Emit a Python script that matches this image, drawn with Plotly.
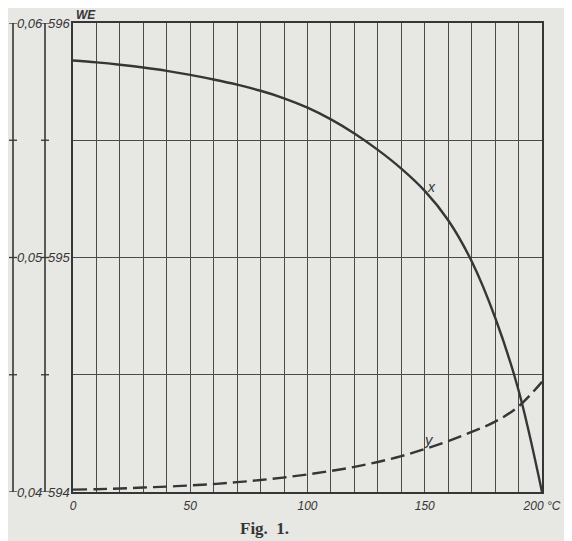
import plotly.graph_objects as go

# Temperature in °C
temps = [0, 10, 20, 30, 40, 50, 60, 70, 80, 90, 100, 110, 120, 130, 140, 150,
         160, 170, 180, 190, 200]
# Curve x (solid), WE
x_we = [595.84, 595.832, 595.822, 595.810, 595.796, 595.779, 595.759, 595.737, 595.711,
        595.679, 595.639, 595.589, 595.529, 595.459, 595.379, 595.284, 595.159, 594.984,
        594.744, 594.434, 594.0]
# Curve y (dashed), WE
y_we = [594.01, 594.012, 594.015, 594.019, 594.023, 594.028, 594.034, 594.042, 594.051,
        594.062, 594.075, 594.09, 594.107, 594.128, 594.153, 594.183, 594.217, 594.256,
        594.30, 594.365, 594.47]

x_tickvals = [0, 50, 100, 150, 200]
x_ticktext = ["0", "50", "100", "150", "200 °C"]
left_vals = [594, 595, 596]
left_outer = ["0,04", "0,05", "0,06"]
left_inner = ["594", "595", "596"]
minor_left = [594.5, 595.5]

ink = "#363636"
paper = "#e7e7e3"
font_it = dict(family="Liberation Sans", size=13, color=ink, style="italic")

fig = go.Figure()
fig.add_trace(go.Scatter(x=temps, y=x_we, mode="lines",
                         line=dict(color=ink, width=2.4, shape="spline"),
                         showlegend=False, hoverinfo="skip"))
fig.add_trace(go.Scatter(x=temps, y=y_we, mode="lines",
                         line=dict(color=ink, width=2.4, shape="spline", dash="14px,6px"),
                         showlegend=False, hoverinfo="skip"))

# page has an 8px body margin, so figure coords = window coords - 8
W, H = 564, 533
L, T = 65, 15
pw = 469
R = W - L - pw
B = H - T - 469

def px_to_paper(px_window):
    return (px_window - 8 - L) / pw

shapes = []
annotations = []
for xp in (13, 45):
    shapes.append(dict(type="line", xref="paper", yref="y",
                       x0=px_to_paper(xp), x1=px_to_paper(xp), y0=594, y1=596,
                       line=dict(color=ink, width=1.6)))
    for v in left_vals + minor_left:
        shapes.append(dict(type="line", xref="paper", yref="y",
                           x0=px_to_paper(xp - 4), x1=px_to_paper(xp + 4), y0=v, y1=v,
                           line=dict(color=ink, width=1.3)))
for v, o, i in zip(left_vals, left_outer, left_inner):
    annotations.append(dict(x=px_to_paper(16), y=v, xref="paper", yref="y",
                            text=o, showarrow=False, xanchor="left", yanchor="middle",
                            font=font_it, borderpad=0))
    annotations.append(dict(x=px_to_paper(47), y=v, xref="paper", yref="y",
                            text=i, showarrow=False, xanchor="left", yanchor="middle",
                            font=font_it, borderpad=0))

annotations.append(dict(x=px_to_paper(75), y=1 + 8 / 469, xref="paper", yref="paper",
                        text="<b>WE</b>", showarrow=False, xanchor="left", yanchor="middle",
                        font=dict(font_it, size=12), borderpad=0))
annotations.append(dict(x=153, y=595.30, text="x", showarrow=False,
                        font=dict(font_it, size=14)))
annotations.append(dict(x=152, y=594.225, text="y", showarrow=False,
                        font=dict(font_it, size=15)))
annotations.append(dict(x=px_to_paper(264), y=(T + 469 - (528 - 8)) / 469,
                        xref="paper", yref="paper",
                        text="<b>Fig.  1.</b>", showarrow=False, yanchor="middle",
                        font=dict(family="Liberation Serif", size=17, color=ink)))

fig.update_layout(
    width=W, height=H,
    margin=dict(l=L, r=R, t=T, b=B, autoexpand=False),
    paper_bgcolor=paper, plot_bgcolor=paper,
    shapes=shapes, annotations=annotations,
    xaxis=dict(range=[0, 200], tickvals=x_tickvals, ticktext=x_ticktext,
               showgrid=True, gridcolor="#4a4a4a", gridwidth=1,
               minor=dict(dtick=10, showgrid=True, gridcolor="#4a4a4a", gridwidth=1),
               showline=True, mirror=True, linecolor=ink, linewidth=2,
               ticks="", ticklabelstandoff=2, tickfont=dict(font_it, size=12),
               zeroline=False, fixedrange=True),
    yaxis=dict(range=[594, 596], dtick=0.5, showgrid=True, gridcolor="#4a4a4a",
               gridwidth=1, showticklabels=False, showline=True, mirror=True,
               linecolor=ink, linewidth=2, ticks="", zeroline=False, fixedrange=True),
)

fig.write_html("out.html")
